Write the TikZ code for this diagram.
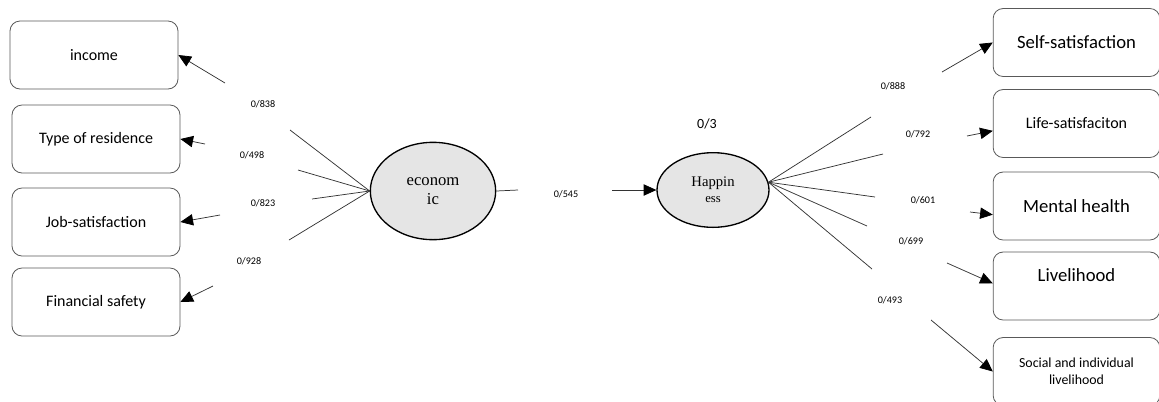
\documentclass[tikz,border=0pt]{standalone}
\usepackage{fontspec}
\setmainfont{Carlito}
\newfontfamily\timesfont{Liberation Serif}
\usetikzlibrary{arrows.meta,shapes.geometric}
\tikzstyle{box}=[rectangle,rounded corners=7.5pt,draw=black!65,line width=0.6pt,inner sep=0pt,minimum width=126pt,minimum height=51pt,align=center,font=\fontsize{12}{14}\selectfont]
\tikzstyle{rbox}=[box,minimum width=125pt,font=\fontsize{14}{17}\selectfont]
\tikzstyle{latent}=[ellipse,draw=black,line width=1pt,fill=black!10,inner sep=0pt,align=center,font=\timesfont\fontsize{12.5}{14}\selectfont]
\tikzstyle{link}=[draw=black!80,line width=0.55pt]
\tikzstyle{arrow}=[link,-{Triangle[length=9.5pt,width=8.5pt,black]}]
\tikzstyle{coef}=[inner sep=0pt,font=\fontsize{7.6}{9}\selectfont]

\begin{document}
\begin{tikzpicture}[x=0.75pt,y=-0.75pt]
    \useasboundingbox (0,0) rectangle (1159,401);

    % indicators of the economic factor
    \node (inc) at (94,55)   [box] {income};
    \node (res) at (96,139)  [box] {Type of residence};
    \node (job) at (96,222)  [box] {Job-satisfaction};
    \node (fin) at (96,302)  [box] {Financial safety};

    % latent variables
    \node (econ)  at (433,191) [latent,minimum width=94pt,minimum height=73pt] {econom\\ic};
    \node (happy) at (713,190) [latent,minimum width=84pt,minimum height=56pt,font=\timesfont\fontsize{11}{12}\selectfont] {Happin\\{\fontsize{9.5}{11}\selectfont ess}};

    % indicators of happiness
    \node (self)   at (1076.5,42.5)  [rbox] {Self-satisfaction};
    \node (life)   at (1076.5,123.5) [rbox,font=\fontsize{12}{14}\selectfont] {Life-satisfaciton};
    \node (mental) at (1076.5,206)   [rbox] {Mental health};
    \node (live)   at (1076.5,286)   [rbox] {Livelihood\\\mbox{}};
    \node (soc)    at (1076.5,371.5) [rbox,font=\fontsize{10.4}{13}\selectfont] {Social and individual\\livelihood};

    % break points of the connectors
    \coordinate (e1) at (290,130);
    \coordinate (e2) at (298,170);
    \coordinate (e3) at (312,199);
    \coordinate (e4) at (289,240);
    \coordinate (a1) at (225,83);
    \coordinate (a2) at (205,144);
    \coordinate (a3) at (220,215);
    \coordinate (a4) at (213,286);

    \coordinate (m1) at (518,190);
    \coordinate (m2) at (612,190);

    \coordinate (h1) at (871,117);
    \coordinate (h2) at (883,154);
    \coordinate (h3) at (875,197);
    \coordinate (h4) at (867,226);
    \coordinate (h5) at (872,269);
    \coordinate (b1) at (942,72);
    \coordinate (b2) at (967,136);
    \coordinate (b3) at (970,212);
    \coordinate (b4) at (947,263);
    \coordinate (b5) at (931,320);

    \draw (econ.west) -- (e1) [link];
    \draw (econ.west) -- (e2) [link];
    \draw (econ.west) -- (e3) [link];
    \draw (econ.west) -- (e4) [link];
    \draw (a1) -- (inc.east) [arrow];
    \draw (a2) -- (res.east) [arrow];
    \draw (a3) -- (job.east) [arrow];
    \draw (a4) -- (fin.east) [arrow];

    \draw (econ.east) -- (m1) [link];
    \draw (m2) -- (happy.west) [arrow];

    \draw (happy.8) -- (h1) [link];
    \draw (happy.8) -- (h2) [link];
    \draw (happy.8) -- (h3) [link];
    \draw (happy.8) -- (h4) [link];
    \draw (happy.8) -- (h5) [link];
    \draw (b1) -- (self.west) [arrow];
    \draw (b2) -- ([yshift=-5.5pt]life.west) [arrow];
    \draw (b3) -- ([yshift=-6.5pt]mental.west) [arrow];
    \draw (b4) -- ([yshift=2pt]live.west) [arrow];
    \draw (b5) -- (soc.west) [arrow];

    % coefficients
    \node (c1) at (263,104) [coef] {0/838};
    \node (c2) at (252,155) [coef] {0/498};
    \node (c3) at (263,203) [coef] {0/823};
    \node (c4) at (249,261) [coef] {0/928};
    \node (c5) at (566,194) [coef] {0/545};
    \node (r2) at (707,124) [coef,font=\fontsize{10.5}{12}\selectfont] {0/3};
    \node (d1) at (893,86)  [coef] {0/888};
    \node (d2) at (918,134) [coef] {0/792};
    \node (d3) at (923,200) [coef] {0/601};
    \node (d4) at (911,241) [coef] {0/699};
    \node (d5) at (890,300) [coef] {0/493};
\end{tikzpicture}
\end{document}
